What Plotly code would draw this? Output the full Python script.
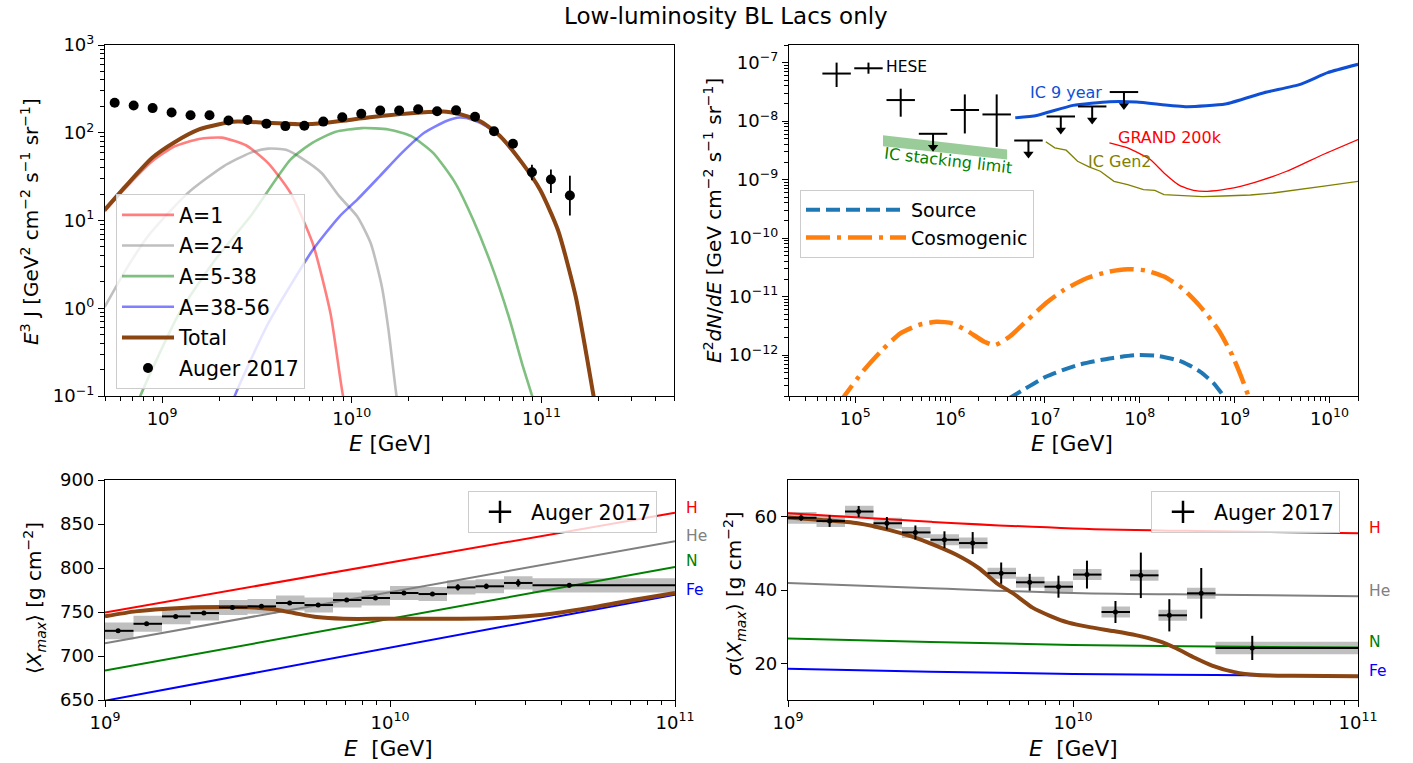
import numpy as np
import plotly.graph_objects as go

W, H = 1413, 763
FONT = "DejaVu Sans"

# ======================= DATA =======================
# --- Top-left: UHECR spectrum E^3 J (GeV^2 cm^-2 s^-1 sr^-1) ---
auger_spec_log10E = [8.75, 8.85, 8.95, 9.05, 9.15, 9.25, 9.35, 9.45, 9.55, 9.65, 9.75, 9.85, 9.95,
                     10.05, 10.15, 10.25, 10.35, 10.45, 10.55, 10.65, 10.75, 10.85, 10.95, 11.05, 11.15]
auger_spec_J = [220, 204, 191, 170, 158, 158, 138, 140, 127, 119, 120, 134, 150,
                165, 179, 179, 185, 176, 180, 152, 104, 75, 35.5, 29.3, 19.3]
auger_spec_err_up = [0, 0, 0, 0, 0, 0, 0, 0, 0, 0, 0, 0, 0,
                     0, 0, 0, 0, 0, 0, 0, 2, 3, 7.8, 8.7, 13.1]
auger_spec_err_dn = [0, 0, 0, 0, 0, 0, 0, 0, 0, 0, 0, 0, 0,
                     0, 0, 0, 0, 0, 0, 0, 2, 3, 6.8, 8.7, 7.9]

a1_log10E = [8.697, 8.807, 8.948, 9.066, 9.195, 9.313, 9.442, 9.559, 9.677, 9.794, 9.888, 9.954, 9.99]
a1_J = [12.7, 23.5, 47.4, 70, 85, 88, 72, 45, 20.6, 5.5, 0.87, 0.1, 0.05]

a2_log10E = [8.697, 8.807, 8.925, 9.136, 9.324, 9.465, 9.559, 9.653, 9.747, 9.841, 9.935,
             10.029, 10.1, 10.159, 10.194, 10.236, 10.26]
a2_J = [1.03, 2.7, 6.6, 20.6, 41.5, 59, 66, 64, 49.5, 34.8, 18.8, 11.1, 5.5, 1.75, 0.56, 0.1, 0.05]

a3_log10E = [8.86, 8.885, 9.089, 9.277, 9.465, 9.677, 9.794, 9.912, 10.053, 10.194, 10.311,
             10.429, 10.546, 10.64, 10.734, 10.828, 10.899, 10.951, 10.98]
a3_J = [0.07, 0.1, 0.87, 3.5, 11.1, 49.5, 77, 102, 113, 109, 92, 59, 26.7, 10.2, 3.2, 0.8, 0.23, 0.1, 0.06]

a4_log10E = [9.36, 9.383, 9.559, 9.794, 9.935, 10.029, 10.147, 10.264, 10.382, 10.499, 10.57,
             10.64, 10.711, 10.781, 10.899, 10.993, 11.087, 11.181, 11.275, 11.3]
a4_J = [0.07, 0.1, 0.67, 4.6, 11.1, 17.3, 31.9, 59, 100, 136, 149, 140, 118, 90, 45, 22.4, 7.8,
        1.35, 0.1, 0.05]

total_log10E = [8.697, 8.807, 8.948, 9.066, 9.195, 9.301, 9.395, 9.559, 9.747, 9.841, 10.006,
                10.194, 10.405, 10.499, 10.593, 10.687, 10.781, 10.899, 10.993, 11.087, 11.181,
                11.275, 11.3]
total_J = [13.2, 24.5, 51.8, 78, 109, 125, 134, 130, 125, 128, 142, 158, 172, 174, 158, 132, 92,
           45, 22.4, 7.8, 1.35, 0.1, 0.05]

# --- Top-right: neutrino fluxes E^2 dN/dE (GeV cm^-2 s^-1 sr^-1) ---
hese_log10E = [4.803, 5.139, 5.479, 6.155, 6.491]
hese_flux = [6.5e-8, 8.0e-8, 2.29e-8, 1.55e-8, 1.3e-8]
hese_lo = [3.83e-8, 6.46e-8, 1.19e-8, 6.15e-9, 3.63e-9]
hese_hi = [1.0e-7, 1.0e-7, 3.58e-8, 2.86e-8, 2.86e-8]
ul_log10E = [5.82, 6.826, 7.167, 7.498, 7.833]
ul_flux = [6.07e-9, 4.66e-9, 1.2e-8, 1.78e-8, 3.14e-8]
hese_half_bin_dex = 0.15
ul_arrow_dex = 0.3

ic9_log10E = [6.687, 6.913, 7.296, 7.68, 7.967, 8.495, 8.902, 9.31, 9.693, 9.981, 10.302]
ic9_log10F = [-7.943, -7.903, -7.731, -7.669, -7.674, -7.754, -7.709, -7.514, -7.371, -7.171, -7.029]

grand_log10E = [7.68, 7.872, 8.111, 8.255, 8.423, 8.567, 8.711, 8.926, 9.214, 9.549, 9.933, 10.302]
grand_log10F = [-8.371, -8.457, -8.657, -8.886, -9.103, -9.183, -9.2, -9.16, -9.046, -8.857, -8.571, -8.314]

gen2_log10E = [7.009, 7.104, 7.224, 7.344, 7.464, 7.584, 7.728, 7.872, 8.039, 8.159, 8.255,
               8.447, 8.663, 8.878, 9.166, 9.406, 9.693, 9.981, 10.302]
gen2_log10F = [-8.354, -8.457, -8.497, -8.686, -8.783, -8.857, -9.029, -9.086, -9.171, -9.183, -9.257,
               -9.269, -9.291, -9.28, -9.263, -9.229, -9.171, -9.103, -9.029]

stack_log10E = [5.292, 6.601, 6.601, 5.292, 5.292]
stack_log10F = [-8.24, -8.486, -8.657, -8.429, -8.24]

source_log10E = [6.62, 6.707, 7.009, 7.344, 7.68, 7.967, 8.207, 8.447, 8.639, 8.782, 8.878, 8.93]
source_log10F = [-12.74, -12.657, -12.371, -12.171, -12.057, -12.0, -12.017, -12.114, -12.286,
                 -12.486, -12.686, -12.78]

cosmo_log10E = [4.82, 4.89, 5.091, 5.283, 5.475, 5.666, 5.858, 6.026, 6.194, 6.361, 6.472, 6.625,
                6.817, 7.009, 7.2, 7.44, 7.68, 7.872, 8.063, 8.255, 8.447, 8.639, 8.83, 8.974,
                9.07, 9.142, 9.17]
cosmo_log10F = [-12.85, -12.686, -12.257, -11.914, -11.629, -11.486, -11.429, -11.457, -11.6, -11.771,
                -11.829, -11.686, -11.4, -11.114, -10.886, -10.686, -10.571, -10.531, -10.554,
                -10.657, -10.857, -11.171, -11.571, -12.0, -12.371, -12.686, -12.85]

# --- Bottom: Xmax moments (Auger 2017) ---
bin_log10E_lo = [9.0, 9.1, 9.2, 9.3, 9.4, 9.5, 9.6, 9.7, 9.8, 9.9, 10.0, 10.1, 10.2, 10.3, 10.4, 10.5]
bin_log10E_hi = [9.1, 9.2, 9.3, 9.4, 9.5, 9.6, 9.7, 9.8, 9.9, 10.0, 10.1, 10.2, 10.3, 10.4, 10.5, 11.0]
bin_log10E_mean = [9.046, 9.146, 9.248, 9.347, 9.447, 9.549, 9.648, 9.748, 9.848, 9.949, 10.049,
                   10.149, 10.238, 10.338, 10.45, 10.629]

xmax_mean = [728.6, 736.6, 745.0, 748.8, 755.2, 756.4, 760.2, 757.9, 763.6, 765.9, 771.6, 770.4,
             778.0, 779.2, 783.0, 780.3]
xmax_stat = [1.5, 1.5, 1.5, 1.5, 1.5, 1.5, 1.5, 1.8, 1.8, 2.0, 2.0, 2.0, 3.5, 3.0, 4.2, 2.5]
xmax_sys = [9.5, 9, 9, 8.5, 8.5, 8.5, 8.5, 8.5, 8.5, 8.5, 8, 8, 8, 8, 7.5, 8]

sigma_mean = [59.7, 58.8, 61.4, 58.2, 55.7, 53.7, 52.8, 44.6, 42.1, 40.9, 44.2, 34.0, 44.0, 33.1, 39.1, 24.2]
sigma_stat = [0.8, 1.6, 1.5, 1.7, 1.9, 2.3, 3.0, 2.9, 2.3, 3.0, 3.8, 3.0, 6.2, 4.4, 6.9, 3.3]
sigma_sys = [1.6, 1.6, 1.6, 1.5, 1.5, 1.5, 1.5, 1.5, 1.5, 1.5, 1.5, 1.5, 1.5, 1.5, 1.5, 1.7]

# reference lines for pure compositions
ref_xmax_log10E = [9.0, 11.0]
ref_xmax = {"H": [749.5, 862.8], "He": [714.6, 830.5], "N": [683.4, 801.2], "Fe": [649.2, 769.7]}
ref_sigma_log10E = [9.0, 9.5, 10.0, 10.5, 11.0]
ref_sigma = {"H": [60.9, 58.6, 56.8, 56.0, 55.5], "He": [41.9, 40.5, 39.2, 38.7, 38.3],
             "N": [26.8, 25.8, 25.0, 24.6, 24.3], "Fe": [18.5, 17.7, 17.1, 16.8, 16.5]}
ref_colors = {"H": "#ff0000", "He": "#808080", "N": "#008000", "Fe": "#0000ff"}
ref_label_xmax = {"H": 868, "He": 836, "N": 808, "Fe": 775}
ref_label_sigma = {"H": 56.8, "He": 39.7, "N": 25.7, "Fe": 18.0}

model_xmax_log10E = [9.0, 9.107, 9.266, 9.425, 9.52, 9.584, 9.663, 9.743, 9.838, 9.998, 10.22,
                     10.379, 10.539, 10.698, 10.857, 11.0]
model_xmax = [745, 750.7, 754.5, 755.6, 755.2, 753.3, 748.8, 744.2, 742.3, 742.3, 742.3, 743.1,
              746.9, 754.5, 764, 771.6]
model_sigma_log10E = [9.0, 9.118, 9.244, 9.354, 9.433, 9.512, 9.591, 9.669, 9.732, 9.795, 9.858,
                      9.921, 9.984, 10.063, 10.142, 10.22, 10.299, 10.362, 10.425, 10.488, 10.567,
                      10.646, 10.772, 11.0]
model_sigma = [59.8, 59.1, 58.2, 56.4, 54.6, 52.3, 49.6, 46.0, 41.9, 38.8, 35.2, 32.9, 31.1, 29.8,
               28.8, 27.7, 26.1, 24.1, 21.6, 19.4, 17.6, 16.8, 16.6, 16.5]

# ======================= FIGURE =======================
def P(a):
    return 10 ** np.asarray(a, dtype=float)

def px_x(p):
    return p / W

def px_y(p):
    return 1 - p / H

BROWN = "#8B4513"
fig = go.Figure()

# ---- Top-left ----
for name, lg, val, col in [("A=1", a1_log10E, a1_J, "rgba(255,0,0,0.5)"),
                           ("A=2-4", a2_log10E, a2_J, "rgba(128,128,128,0.5)"),
                           ("A=5-38", a3_log10E, a3_J, "rgba(0,128,0,0.5)"),
                           ("A=38-56", a4_log10E, a4_J, "rgba(0,0,255,0.5)")]:
    fig.add_trace(go.Scatter(x=P(lg), y=val, mode="lines", name=name, legend="legend",
                             legendgroup=name,
                             line=dict(color=col, width=2.6, shape="spline", smoothing=0.6),
                             xaxis="x", yaxis="y"))
fig.add_trace(go.Scatter(x=P(total_log10E), y=total_J, mode="lines", name="Total", legend="legend",
                         legendgroup="Total",
                         line=dict(color=BROWN, width=4, shape="spline", smoothing=0.6),
                         xaxis="x", yaxis="y"))
fig.add_trace(go.Scatter(x=P(auger_spec_log10E), y=auger_spec_J, mode="markers", name="Auger 2017",
                         legend="legend", legendgroup="Auger",
                         marker=dict(color="black", size=10),
                         error_y=dict(type="data", symmetric=False, array=auger_spec_err_up,
                                      arrayminus=auger_spec_err_dn, color="black", thickness=1.8,
                                      width=0),
                         xaxis="x", yaxis="y"))

# ---- Top-right ----
fig.add_trace(go.Scatter(x=P(stack_log10E), y=P(stack_log10F), mode="lines", fill="toself",
                         fillcolor="rgba(0,128,0,0.4)", line=dict(width=0), showlegend=False,
                         hoverinfo="skip", xaxis="x2", yaxis="y2"))
fig.add_trace(go.Scatter(x=P(ic9_log10E), y=P(ic9_log10F), mode="lines", showlegend=False,
                         line=dict(color="#0f4fd6", width=3, shape="spline", smoothing=0.5),
                         xaxis="x2", yaxis="y2"))
fig.add_trace(go.Scatter(x=P(grand_log10E), y=P(grand_log10F), mode="lines", showlegend=False,
                         line=dict(color="#ff0000", width=1.3, shape="spline", smoothing=0.5),
                         xaxis="x2", yaxis="y2"))
fig.add_trace(go.Scatter(x=P(gen2_log10E), y=P(gen2_log10F), mode="lines", showlegend=False,
                         line=dict(color="#808000", width=1.3),
                         xaxis="x2", yaxis="y2"))

hE = P(hese_log10E)
fig.add_trace(go.Scatter(x=hE, y=hese_flux, mode="markers", showlegend=False,
                         marker=dict(color="black", size=1),
                         error_x=dict(type="data", symmetric=False,
                                      array=P(np.array(hese_log10E) + hese_half_bin_dex) - hE,
                                      arrayminus=hE - P(np.array(hese_log10E) - hese_half_bin_dex),
                                      color="black", thickness=2, width=0),
                         error_y=dict(type="data", symmetric=False,
                                      array=np.array(hese_hi) - np.array(hese_flux),
                                      arrayminus=np.array(hese_flux) - np.array(hese_lo),
                                      color="black", thickness=2, width=0),
                         xaxis="x2", yaxis="y2"))
uE = P(ul_log10E)
uF = np.array(ul_flux)
fig.add_trace(go.Scatter(x=uE, y=uF, mode="markers", showlegend=False,
                         marker=dict(color="black", size=1),
                         error_x=dict(type="data", symmetric=False,
                                      array=P(np.array(ul_log10E) + hese_half_bin_dex) - uE,
                                      arrayminus=uE - P(np.array(ul_log10E) - hese_half_bin_dex),
                                      color="black", thickness=2, width=0),
                         error_y=dict(type="data", symmetric=False, array=np.zeros(len(uF)),
                                      arrayminus=uF - uF * 10 ** (-ul_arrow_dex + 0.05),
                                      color="black", thickness=2, width=0),
                         xaxis="x2", yaxis="y2"))
fig.add_trace(go.Scatter(x=uE, y=uF * 10 ** (-ul_arrow_dex + 0.07), mode="markers", showlegend=False,
                         marker=dict(color="black", size=9, symbol="triangle-down"),
                         xaxis="x2", yaxis="y2"))

fig.add_trace(go.Scatter(x=P(source_log10E), y=P(source_log10F), mode="lines", name="Source",
                         legend="legend2", legendgroup="Source",
                         line=dict(color="#1f77b4", width=4, dash="14px,6px", shape="spline",
                                   smoothing=0.6),
                         xaxis="x2", yaxis="y2"))
fig.add_trace(go.Scatter(x=P(cosmo_log10E), y=P(cosmo_log10F), mode="lines", name="Cosmogenic",
                         legend="legend2", legendgroup="Cosmo",
                         line=dict(color="#ff7f0e", width=4.5, dash="24px,7px,4px,7px",
                                   shape="spline", smoothing=0.6),
                         xaxis="x2", yaxis="y2"))

# ---- Bottom panels ----
def boxes(lo, hi, mean, half):
    xs, ys = [], []
    for a, b, m, s in zip(lo, hi, mean, half):
        xs += [10 ** a, 10 ** b, 10 ** b, 10 ** a, 10 ** a, None]
        ys += [m - s, m - s, m + s, m + s, m - s, None]
    return xs, ys

binE = P(bin_log10E_mean)
for (xa, ya, mean, stat, sys_, ref, refE, model_lg, model_v, leg) in [
        ("x3", "y3", xmax_mean, xmax_stat, xmax_sys, ref_xmax, ref_xmax_log10E,
         model_xmax_log10E, model_xmax, "legend3"),
        ("x4", "y4", sigma_mean, sigma_stat, sigma_sys, ref_sigma, ref_sigma_log10E,
         model_sigma_log10E, model_sigma, "legend4")]:
    bx, by = boxes(bin_log10E_lo, bin_log10E_hi, mean, sys_)
    fig.add_trace(go.Scatter(x=bx, y=by, mode="lines", fill="toself",
                             fillcolor="rgba(128,128,128,0.5)", line=dict(width=0),
                             showlegend=False, hoverinfo="skip", xaxis=xa, yaxis=ya))
    for comp in ["H", "He", "N", "Fe"]:
        fig.add_trace(go.Scatter(x=P(refE), y=ref[comp], mode="lines", showlegend=False,
                                 line=dict(color=ref_colors[comp], width=2, shape="spline"),
                                 xaxis=xa, yaxis=ya))
    fig.add_trace(go.Scatter(x=P(model_lg), y=model_v, mode="lines", showlegend=False,
                             line=dict(color=BROWN, width=4, shape="spline", smoothing=0.6),
                             xaxis=xa, yaxis=ya))
    fig.add_trace(go.Scatter(x=binE, y=mean, mode="markers", showlegend=False,
                             marker=dict(color="black", size=5),
                             error_x=dict(type="data", symmetric=False,
                                          array=P(bin_log10E_hi) - binE,
                                          arrayminus=binE - P(bin_log10E_lo),
                                          color="black", thickness=2, width=0),
                             error_y=dict(type="data", array=stat, color="black", thickness=2,
                                          width=0),
                             xaxis=xa, yaxis=ya))
    fig.add_trace(go.Scatter(x=[None], y=[None], mode="markers", name="Auger 2017", legend=leg,
                             marker=dict(color="black", size=20, symbol="cross-thin",
                                         line=dict(color="black", width=2.5)),
                             xaxis=xa, yaxis=ya))

# ======================= AXES =======================
def minor_vals(d0, d1):
    return [m * 10.0 ** d for d in range(d0, d1) for m in range(2, 10)]

def sup(e):
    s = str(e).replace("-", "\u2212")
    return "10<sup>%s</sup>" % s

TICK = 18
common = dict(showline=True, linecolor="black", linewidth=1.2, mirror=True, ticks="outside",
              ticklen=6, tickwidth=1.2, tickcolor="black", showgrid=False, zeroline=False,
              tickfont=dict(family=FONT, size=TICK, color="black"))
minor_common = dict(ticks="outside", ticklen=3.5, tickwidth=1, tickcolor="black", showgrid=False)

def logaxis(rng, majors, d0, d1, **kw):
    d = dict(common)
    d.update(type="log", range=rng, tickmode="array", tickvals=[10.0 ** e for e in majors],
             ticktext=[sup(e) for e in majors],
             minor=dict(minor_common, tickmode="array", tickvals=minor_vals(d0, d1)))
    d.update(kw)
    return d

TL_x = [105, 674]; TR_x = [789, 1358]
BL_x = [105, 675]; BR_x = [788, 1358]
T_y = [45, 396]; B_y = [480, 700]

fig.update_layout(
    xaxis=logaxis([np.log10(5e8), np.log10(5e11)], [9, 10, 11], 8, 12,
                  domain=[px_x(TL_x[0]), px_x(TL_x[1])], anchor="y"),
    yaxis=logaxis([-1, 3], [-1, 0, 1, 2, 3], -1, 3,
                  domain=[px_y(T_y[1]), px_y(T_y[0])], anchor="x"),
    xaxis2=logaxis([np.log10(2e4), np.log10(2e10)], [5, 6, 7, 8, 9, 10], 4, 11,
                   domain=[px_x(TR_x[0]), px_x(TR_x[1])], anchor="y2"),
    yaxis2=logaxis([np.log10(2e-13), np.log10(2e-7)], [-12, -11, -10, -9, -8, -7], -13, -6,
                   domain=[px_y(T_y[1]), px_y(T_y[0])], anchor="x2"),
    xaxis3=logaxis([9, 11], [9, 10, 11], 9, 11,
                   domain=[px_x(BL_x[0]), px_x(BL_x[1])], anchor="y3"),
    yaxis3=dict(common, range=[650, 900], tickmode="array", tickvals=[650, 700, 750, 800, 850, 900],
                domain=[px_y(B_y[1]), px_y(B_y[0])], anchor="x3"),
    xaxis4=logaxis([9, 11], [9, 10, 11], 9, 11,
                   domain=[px_x(BR_x[0]), px_x(BR_x[1])], anchor="y4"),
    yaxis4=dict(common, range=[10, 70], tickmode="array", tickvals=[20, 40, 60],
                domain=[px_y(B_y[1]), px_y(B_y[0])], anchor="x4"),
)

leg_common = dict(xanchor="left", yanchor="top", bgcolor="rgba(255,255,255,0.8)",
                  bordercolor="#cccccc", borderwidth=1)
fig.update_layout(
    legend=dict(leg_common, x=px_x(116), y=px_y(194), tracegroupgap=1, itemwidth=52,
                font=dict(family=FONT, size=20.5, color="black")),
    legend2=dict(leg_common, x=px_x(800), y=px_y(190), tracegroupgap=0, itemwidth=100,
                 font=dict(family=FONT, size=19, color="black")),
    legend3=dict(leg_common, x=px_x(468), y=px_y(491), itemwidth=52,
                 font=dict(family=FONT, size=20.5, color="black")),
    legend4=dict(leg_common, x=px_x(1151), y=px_y(491), itemwidth=52,
                 font=dict(family=FONT, size=20.5, color="black")),
)

# ======================= TEXT =======================
ann = []
def paper_text(text, x, y, size, angle=0, xanchor="center", yanchor="middle", color="black"):
    ann.append(dict(text=text, x=px_x(x), y=px_y(y), xref="paper", yref="paper", showarrow=False,
                    textangle=angle, xanchor=xanchor, yanchor=yanchor,
                    font=dict(family=FONT, size=size, color=color)))

YT = 20
paper_text("Low-luminosity BL Lacs only", 726, 16, 23)
paper_text("<i>E</i><sup>3</sup> J [GeV<sup>2</sup> cm<sup>\u22122</sup> s<sup>\u22121</sup> sr<sup>\u22121</sup>]",
           30, 222, YT, angle=-90)
paper_text("<i>E</i><sup>2</sup><i>dN</i>/<i>dE</i> [GeV cm<sup>\u22122</sup> s<sup>\u22121</sup> sr<sup>\u22121</sup>]",
           713, 221, YT, angle=-90)
paper_text("\u27e8<i>X<sub>max</sub></i>\u27e9 [g cm<sup>\u22122</sup>]", 34, 598, YT, angle=-90)
paper_text("<i>\u03c3</i>(<i>X<sub>max</sub></i>) [g cm<sup>\u22122</sup>]", 734, 594, YT, angle=-90)
paper_text("<i>E</i> [GeV]", 390, 443, 21.5)
paper_text("<i>E</i> [GeV]", 1072, 443, 21.5)
paper_text("<i>E</i>  [GeV]", 389, 748, 21.5)
paper_text("<i>E</i>  [GeV]", 1073, 748, 21.5)

def data_text(text, xa, ya, x, y, size, color, xanchor="left", angle=0):
    ann.append(dict(text=text, x=x, y=y, xref=xa, yref=ya, showarrow=False, xanchor=xanchor,
                    yanchor="middle", textangle=angle,
                    font=dict(family=FONT, size=size, color=color)))

data_text("HESE", "x2", "y2", 5.30, -7.07, 15.5, "black")
data_text("IC 9 year", "x2", "y2", 6.826, -7.514, 16, "#0f4fd6")
data_text("GRAND 200k", "x2", "y2", 7.752, -8.286, 16, "#ff0000")
data_text("IC Gen2", "x2", "y2", 7.43, -8.686, 16, "#808000")
data_text("IC stacking limit", "x2", "y2", 5.978, -8.669, 16, "#008000", xanchor="center", angle=6.6)

for comp in ["H", "He", "N", "Fe"]:
    ann.append(dict(text=comp, x=1.015, y=ref_label_xmax[comp], xref="x3 domain", yref="y3",
                    showarrow=False, xanchor="left", yanchor="middle",
                    font=dict(family=FONT, size=15.5, color=ref_colors[comp])))
    ann.append(dict(text=comp, x=1.015, y=ref_label_sigma[comp], xref="x4 domain", yref="y4",
                    showarrow=False, xanchor="left", yanchor="middle",
                    font=dict(family=FONT, size=15.5, color=ref_colors[comp])))

fig.update_layout(annotations=ann, width=W, height=H,
                  margin=dict(l=0, r=0, t=0, b=0, autoexpand=False),
                  paper_bgcolor="white", plot_bgcolor="white",
                  font=dict(family=FONT, size=17, color="black"))

fig.write_html("out.html", config={"displayModeBar": False},
               post_script="document.body.style.margin='0';document.body.style.overflow='hidden';")
